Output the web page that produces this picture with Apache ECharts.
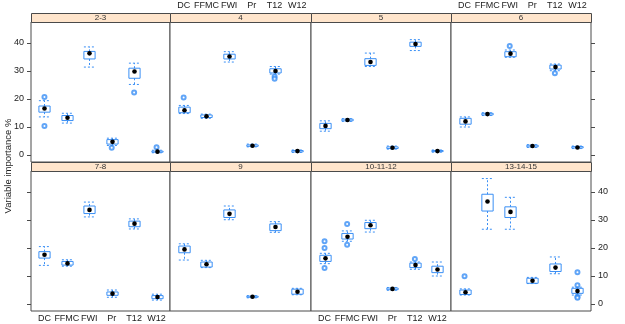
<!DOCTYPE html>
<html>
<head>
<meta charset="utf-8">
<script src="https://cdn.jsdelivr.net/npm/echarts@6/dist/echarts.min.js"></script>
<style>
html, body { margin: 0; padding: 0; background: #fff; }
#chart { width: 625px; height: 324px; }
</style>
</head>
<body>
<div id="chart"></div>
<script>
// panel names (months) and variables
const panels = ['2-3', '4', '5', '6', '7-8', '9', '10-11-12', '13-14-15'];
const vars = ['DC', 'FFMC', 'FWI', 'Pr', 'T12', 'W12'];
const yTicks = [0, 10, 20, 30, 40];

// [lower whisker, Q1, median, Q3, upper whisker] per variable
const box_2_3 = [[13.6, 15.3, 16.6, 17.5, 19.4], [11.4, 12.3, 13.3, 14.1, 14.9], [31.4, 34.3, 36.3, 37.0, 38.6], [3.4, 3.9, 4.7, 5.5, 6.0], [25.2, 27.4, 29.8, 31.0, 32.8], [0.8, 1.0, 1.2, 1.4, 1.7]];
const box_4 = [[14.8, 15.1, 16.0, 17.1, 17.7], [13.1, 13.4, 13.8, 14.3, 14.6], [33.2, 34.3, 35.2, 36.0, 36.9], [2.9, 3.1, 3.3, 3.6, 3.9], [28.9, 29.3, 30.0, 30.8, 31.6], [0.9, 1.1, 1.4, 1.6, 1.8]];
const box_5 = [[8.5, 9.4, 10.4, 11.3, 12.2], [12.0, 12.2, 12.5, 12.8, 13.0], [31.6, 32.0, 33.2, 34.4, 36.4], [2.1, 2.3, 2.6, 2.9, 3.2], [37.3, 38.8, 39.6, 40.3, 41.2], [1.0, 1.2, 1.4, 1.6, 1.8]];
const box_6 = [[10.0, 11.0, 12.0, 13.1, 13.6], [14.1, 14.3, 14.6, 14.9, 15.1], [34.9, 35.1, 36.2, 36.9, 37.5], [2.7, 2.9, 3.2, 3.5, 3.7], [30.1, 30.7, 31.4, 32.1, 32.5], [2.3, 2.5, 2.7, 3.0, 3.2]];
const box_7_8 = [[13.8, 16.4, 17.6, 18.7, 20.5], [13.5, 13.9, 14.5, 15.2, 15.8], [31.1, 32.3, 33.6, 35.0, 36.4], [2.4, 3.1, 3.7, 4.3, 5.0], [26.8, 27.6, 28.7, 29.6, 30.4], [1.4, 1.9, 2.5, 3.0, 3.5]];
const box_9 = [[15.7, 18.3, 19.5, 20.7, 21.5], [13.0, 13.2, 14.2, 15.0, 15.6], [30.1, 30.9, 32.2, 33.6, 35.0], [2.2, 2.4, 2.6, 2.8, 3.0], [25.6, 26.2, 27.5, 28.6, 29.4], [3.3, 3.5, 4.4, 5.3, 5.6]];
const box_10_11_12 = [[14.4, 15.2, 16.3, 17.4, 18.1], [22.4, 23.2, 24.0, 25.2, 26.1], [25.7, 26.9, 28.1, 29.1, 29.9], [4.9, 5.1, 5.4, 5.7, 5.9], [12.4, 13.0, 13.9, 14.6, 15.0], [10.0, 11.2, 12.3, 13.5, 15.0]];
const box_13_14_15 = [[3.2, 3.4, 4.2, 5.0, 5.4], [26.7, 33.2, 36.6, 39.2, 44.8], [26.7, 30.9, 32.9, 34.7, 38.1], [7.3, 7.4, 8.3, 9.2, 9.5], [10.8, 11.6, 13.0, 14.3, 16.8], [3.2, 3.8, 4.6, 5.6, 6.0]];

// outliers per variable
const out_2_3 = [[20.7, 10.4], [], [], [2.6], [22.3], [2.8]];
const out_4 = [[20.5], [], [], [], [28.0, 27.2], []];
const out_5 = [[], [], [], [], [], []];
const out_6 = [[], [], [38.9], [], [29.2], []];
const out_7_8 = [[], [], [], [], [], []];
const out_9 = [[], [], [], [], [], []];
const out_10_11_12 = [[22.4, 20.0, 12.9], [28.6, 21.2], [], [], [16.1], []];
const out_13_14_15 = [[9.9], [], [], [], [], [11.3, 6.7, 2.6, 2.2]];

const boxes = [box_2_3, box_4, box_5, box_6, box_7_8, box_9, box_10_11_12, box_13_14_15];
const outs = [out_2_3, out_4, out_5, out_6, out_7_8, out_9, out_10_11_12, out_13_14_15];

const BLUE = '#3a8ff5';
const LINE = '#4a4a4a';
const colX = [31, 170, 311, 451];
const colW = [139, 141, 140, 140];
const rowY = [22, 171];
const panelH = 140;
const stripH = 9;

function renderBox (params, api) {
  const x = api.value(0);
  const lo = api.coord([x, api.value(1)]);
  const q1 = api.coord([x, api.value(2)]);
  const md = api.coord([x, api.value(3)]);
  const q3 = api.coord([x, api.value(4)]);
  const hi = api.coord([x, api.value(5)]);
  const hw = api.size([0.5, 0])[0] / 2;
  const cx = Math.round(lo[0]) + 0.5;
  const dash = { stroke: BLUE, lineWidth: 1, lineDash: [2, 2], fill: null };
  return {
    type: 'group',
    children: [
      { type: 'line', shape: { x1: cx, y1: q3[1], x2: cx, y2: hi[1] }, style: dash },
      { type: 'line', shape: { x1: cx, y1: q1[1], x2: cx, y2: lo[1] }, style: dash },
      { type: 'line', shape: { x1: cx - hw, y1: hi[1], x2: cx + hw, y2: hi[1] }, style: dash },
      { type: 'line', shape: { x1: cx - hw, y1: lo[1], x2: cx + hw, y2: lo[1] }, style: dash },
      { type: 'rect', shape: { x: cx - hw, y: q3[1], width: 2 * hw, height: q1[1] - q3[1] },
        style: { stroke: BLUE, lineWidth: 1, fill: null } },
      { type: 'circle', shape: { cx: cx, cy: md[1], r: 2.3 }, style: { fill: '#000' } }
    ]
  };
}

const grids = [];
const xAxes = [];
const yAxes = [];
const series = [];
const graphics = [];

panels.forEach((name, i) => {
  const row = i < 4 ? 0 : 1;
  const col = i % 4;
  grids.push({
    left: colX[col], top: rowY[row], width: colW[col], height: panelH,
    show: true, borderColor: LINE, borderWidth: 1, backgroundColor: '#fff'
  });
  const showX = (row === 0 && col % 2 === 1) || (row === 1 && col % 2 === 0);
  xAxes.push({
    type: 'value', gridIndex: i, min: 0.4, max: 6.6,
    position: row === 0 ? 'top' : 'bottom',
    axisLine: { show: false }, axisTick: { show: false }, splitLine: { show: false },
    axisLabel: {
      show: showX, customValues: [1, 2, 3, 4, 5, 6],
      formatter: v => vars[Math.round(v) - 1],
      margin: row === 0 ? 12 : 3,
      color: '#222', fontSize: 9, fontFamily: 'Liberation Sans'
    }
  });
  const edge = col === 0 || col === 3;
  const showY = (row === 0 && col === 0) || (row === 1 && col === 3);
  yAxes.push({
    type: 'value', gridIndex: i, min: -2.5, max: 47.5,
    position: col === 3 ? 'right' : 'left',
    axisLine: { show: false }, splitLine: { show: false },
    axisTick: { show: edge, customValues: yTicks, length: 4, lineStyle: { color: LINE } },
    axisLabel: {
      show: showY, customValues: yTicks, margin: 7,
      color: '#222', fontSize: 9, fontFamily: 'Liberation Sans'
    }
  });
  series.push({
    type: 'custom', xAxisIndex: i, yAxisIndex: i, renderItem: renderBox,
    encode: { x: 0, y: [1, 2, 3, 4, 5] }, z: 3,
    data: boxes[i].map((b, j) => [j + 1].concat(b))
  });
  const pts = [];
  outs[i].forEach((o, j) => o.forEach(v => pts.push([j + 1, v])));
  series.push({
    type: 'scatter', xAxisIndex: i, yAxisIndex: i, z: 2,
    symbol: 'emptyCircle', symbolSize: 4,
    itemStyle: { color: BLUE, borderColor: BLUE, borderWidth: 0.8 },
    data: pts
  });
  graphics.push({
    type: 'rect',
    shape: { x: colX[col] + 0.5, y: rowY[row] - stripH + 0.5, width: colW[col], height: stripH },
    style: { fill: '#ffe5cc', stroke: LINE, lineWidth: 1 }
  });
  graphics.push({
    type: 'text', x: colX[col] + colW[col] / 2, y: rowY[row] - stripH / 2 + 0.5,
    style: { text: name, fill: '#333', font: '8px "Liberation Sans"', textAlign: 'center', textVerticalAlign: 'middle' }
  });
});

graphics.push({
  type: 'text', x: 8, y: 166, rotation: Math.PI / 2,
  style: { text: 'Variable importance %', fill: '#222', font: '9.5px "Liberation Sans"', textAlign: 'center', textVerticalAlign: 'middle' }
});

const chart = echarts.init(document.getElementById('chart'), null, { renderer: 'canvas' });
chart.setOption({
  backgroundColor: '#fff',
  animation: false,
  grid: grids,
  xAxis: xAxes,
  yAxis: yAxes,
  series: series,
  graphic: graphics
});
</script>
</body>
</html>
